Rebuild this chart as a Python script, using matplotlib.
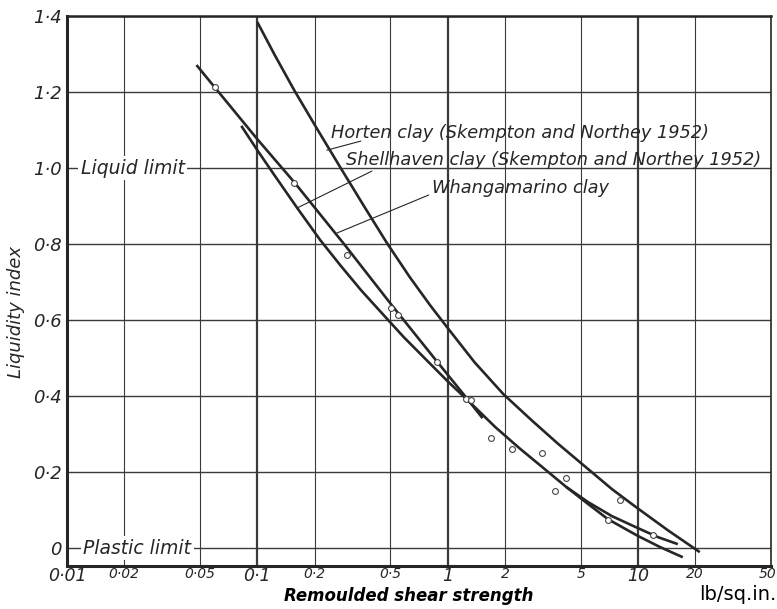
"""Liquidity index vs remoulded shear strength (log scale) for three clays."""
import matplotlib
matplotlib.use("Agg")
import matplotlib.pyplot as plt
from matplotlib.transforms import ScaledTranslation

plt.rcParams["font.family"] = ["DejaVu Sans"]

# ---- data (x in lb/sq.in., y = liquidity index) ----
horten_x = [0.1, 0.1242, 0.1562, 0.2061, 0.272, 0.3633, 0.4794, 0.6324, 0.8147,
            1.012, 1.385, 1.964, 2.754, 3.813, 5.472, 7.31, 9.761, 14.36, 21.12]
horten_y = [1.384, 1.295, 1.205, 1.103, 1.003, 0.900, 0.803, 0.713, 0.637,
            0.576, 0.489, 0.405, 0.337, 0.274, 0.208, 0.155, 0.108, 0.047, -0.0105]

shell_x = [0.0824, 0.1, 0.1227, 0.162, 0.2137, 0.2753, 0.3503, 0.4406, 0.5884,
           0.7954, 1.0, 1.288, 1.784, 2.382, 3.182, 4.198, 5.472, 7.31, 9.761,
           12.73, 16.2]
shell_y = [1.111, 1.047, 0.982, 0.895, 0.811, 0.742, 0.679, 0.624, 0.555,
           0.489, 0.439, 0.387, 0.318, 0.263, 0.211, 0.161, 0.121, 0.084, 0.055,
           0.029, 0.0105]

whang_upper_x = [0.0479, 0.1, 0.1562, 0.2888, 0.5091, 0.8758, 1.257, 1.525]
whang_upper_y = [1.271, 1.076, 0.963, 0.797, 0.639, 0.492, 0.395, 0.342]
whang_lower_x = [4.198, 5.472, 6.965, 10.0, 13.04, 17.2]
whang_lower_y = [0.161, 0.116, 0.076, 0.032, 0.003, -0.024]

pts_x = [0.060, 0.156, 0.296, 0.507, 0.55, 0.879, 1.247, 1.33, 1.69, 2.17,
         3.12, 4.18, 3.66, 8.02, 6.96, 11.99]
pts_y = [1.213, 0.961, 0.771, 0.631, 0.613, 0.490, 0.392, 0.389, 0.291, 0.261,
         0.251, 0.185, 0.151, 0.126, 0.074, 0.034]

x_ticks = [0.01, 0.02, 0.05, 0.1, 0.2, 0.5, 1, 2, 5, 10, 20, 50]
x_labels = ["0·01", "0·02", "0·05", "0·1", "0·2", "0·5", "1", "2", "5", "10", "20", "50"]
x_big = [True, False, False, True, False, False, True, False, False, True, False, False]
y_ticks = [0, 0.2, 0.4, 0.6, 0.8, 1.0, 1.2, 1.4]
y_labels = ["0", "0·2", "0·4", "0·6", "0·8", "1·0", "1·2", "1·4"]

INK = "#262626"
GRID = "#3a3a3a"

fig = plt.figure(figsize=(7.77, 6.09), dpi=100)
ax = fig.add_axes([0.0862, 0.0706, 0.9061, 0.9031])
ax.set_xscale("log")
ax.set_xlim(0.01, 50)
ax.set_ylim(-0.047, 1.4)

# grid: decade lines heavier
ax.set_xticks(x_ticks)
ax.set_xticklabels(x_labels)
ax.set_yticks(y_ticks)
ax.set_yticklabels(y_labels)
ax.minorticks_off()
ax.grid(True, color=GRID, lw=0.9)
for gl, big in zip(ax.xaxis.get_gridlines(), x_big):
    gl.set_linewidth(1.6 if big else 0.8)
for gl in ax.yaxis.get_gridlines():
    gl.set_linewidth(1.0)
ax.set_axisbelow(True)

ax.tick_params(axis="x", length=0, pad=0.5)
ax.tick_params(axis="y", length=0, pad=4)
for lbl, big in zip(ax.get_xticklabels(), x_big):
    lbl.set_fontstyle("italic")
    lbl.set_fontsize(12.5 if big else 10)
    lbl.set_color(INK)
last = ax.get_xticklabels()[-1]
last.set_ha("right")
last.set_transform(last.get_transform() + ScaledTranslation(5 / 100, 0, fig.dpi_scale_trans))
for lbl in ax.get_yticklabels():
    lbl.set_fontstyle("italic")
    lbl.set_fontsize(13)
    lbl.set_color(INK)

for side, w in (("left", 2.2), ("bottom", 2.2), ("top", 1.8), ("right", 1.2)):
    ax.spines[side].set_linewidth(w)
    ax.spines[side].set_color(INK)

# curves
kw = dict(color=INK, lw=1.9, solid_capstyle="butt", solid_joinstyle="round", zorder=3)
ax.plot(horten_x, horten_y, **kw)
ax.plot(shell_x, shell_y, **kw)
ax.plot(whang_upper_x, whang_upper_y, **kw)
ax.plot(whang_lower_x, whang_lower_y, **kw)
ax.plot(pts_x, pts_y, ls="none", marker="o", ms=4.2, mfc="white", mec="#444",
        mew=0.8, zorder=4)

# curve labels with leader lines
lead = dict(arrowstyle="-", color=INK, lw=0.8, shrinkA=0, shrinkB=0)
tkw = dict(fontsize=12.8, fontstyle="italic", color=INK, va="center", ha="left")
ax.annotate("", xy=(0.232, 1.047), xytext=(0.35, 1.071), arrowprops=lead)
ax.text(0.244, 1.092, "Horten clay (Skempton and Northey 1952)", **tkw)
ax.annotate("", xy=(0.162, 0.895), xytext=(0.40, 0.992), arrowprops=lead)
ax.text(0.292, 1.021, "Shellhaven clay (Skempton and Northey 1952)", **tkw)
ax.annotate("", xy=(0.262, 0.829), xytext=(0.795, 0.929), arrowprops=lead)
ax.text(0.825, 0.947, "Whangamarino clay", **tkw)

# limit labels sitting on the grid lines
box = dict(boxstyle="square,pad=0.12", fc="white", ec="none")
ax.text(0.0118, 1.0, "Liquid limit", fontsize=13.5, fontstyle="italic", color=INK,
        va="center", ha="left", bbox=box, zorder=2)
ax.text(0.0122, 0.0, "Plastic limit", fontsize=13.5, fontstyle="italic", color=INK,
        va="center", ha="left", bbox=box, zorder=2)

ax.set_ylabel("Liquidity index", fontsize=13, fontstyle="italic", color=INK)
ax.yaxis.set_label_coords(-0.06, 0.462)
fig.text(409 / 777, 1 - 596 / 609, "Remoulded shear strength", fontsize=12,
         fontstyle="italic", fontweight="bold", color="black", ha="center", va="center")
fig.text(776 / 777, 1 - 595 / 609, "lb/sq.in.", fontsize=14, color="black",
         ha="right", va="center")

fig.savefig("out.png", dpi=100, facecolor="white")
